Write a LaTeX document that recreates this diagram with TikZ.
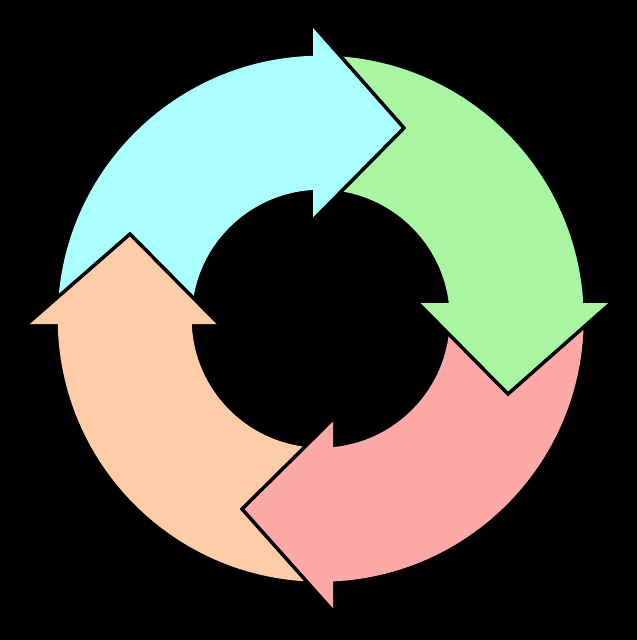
\documentclass[tikz,border=0pt]{standalone}
\usetikzlibrary{calc}
\definecolor{cblue}{RGB}{170,255,255}
\definecolor{cgreen}{RGB}{168,246,162}
\definecolor{cred}{RGB}{255,168,168}
\definecolor{corange}{RGB}{255,204,168}
\begin{document}
\begin{tikzpicture}[x=1pt,y=-1pt,
  headline/.style={draw=black,line width=3.5pt,line join=miter,line cap=butt}]
\fill[black] (0,0) rectangle (637,640);
\useasboundingbox (0,0) rectangle (637,640);
\coordinate (C) at (320.7,318.7);
\def\Ro{263}
\def\Ri{129}
% bodies (annular sectors, seams hidden under heads)
\fill[cblue] ($(C)+(180.5:\Ro)$) arc[start angle=180.5,end angle=270.5,radius=\Ro]
  -- ($(C)+(270.5:\Ri)$) arc[start angle=270.5,end angle=180.5,radius=\Ri] -- cycle;
\fill[cgreen] ($(C)+(270.5:\Ro)$) arc[start angle=270.5,end angle=360.5,radius=\Ro]
  -- ($(C)+(360.5:\Ri)$) arc[start angle=360.5,end angle=270.5,radius=\Ri] -- cycle;
\fill[cred] ($(C)+(0.5:\Ro)$) arc[start angle=0.5,end angle=90.5,radius=\Ro]
  -- ($(C)+(90.5:\Ri)$) arc[start angle=90.5,end angle=0.5,radius=\Ri] -- cycle;
\fill[corange] ($(C)+(90.5:\Ro)$) arc[start angle=90.5,end angle=180.5,radius=\Ro]
  -- ($(C)+(180.5:\Ri)$) arc[start angle=180.5,end angle=90.5,radius=\Ri] -- cycle;
% heads
\coordinate (b1) at (313,25);  \coordinate (bt) at (404,128); \coordinate (b2) at (313,220);
\coordinate (g1) at (611,303); \coordinate (gt) at (508,394); \coordinate (g2) at (418,303);
\coordinate (r1) at (333,611); \coordinate (rt) at (242,509); \coordinate (r2) at (333,419);
\coordinate (o1) at (27,324);  \coordinate (ot) at (130,234); \coordinate (o2) at (219,324);
\fill[cblue] (b1) -- (bt) -- (b2) -- cycle;
\draw[headline] (b1) -- (bt) -- (b2);
\fill[cgreen] (g1) -- (gt) -- (g2) -- cycle;
\draw[headline] (g1) -- (gt) -- (g2);
\fill[cred] (r1) -- (rt) -- (r2) -- cycle;
\draw[headline] (r1) -- (rt) -- (r2);
\fill[corange] (o1) -- (ot) -- (o2) -- cycle;
\draw[headline] (o1) -- (ot) -- (o2);
\end{tikzpicture}
\end{document}
